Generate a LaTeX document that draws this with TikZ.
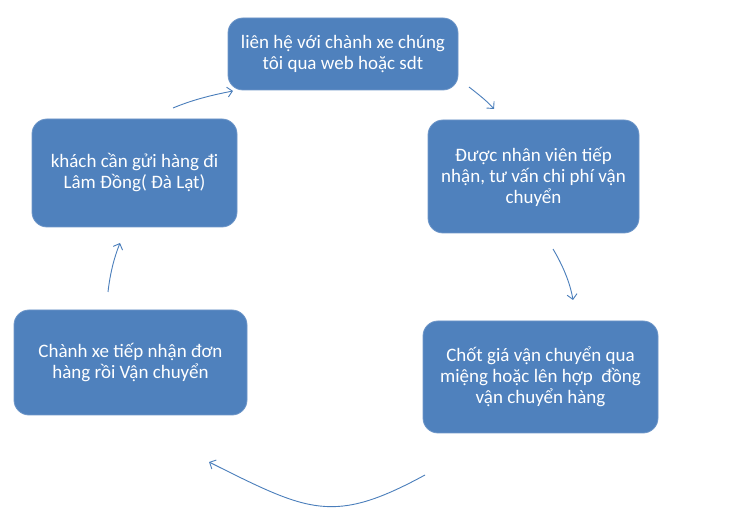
\documentclass[tikz,border=0pt]{standalone}
\usepackage{fontspec}
\setmainfont{Carlito}
\usetikzlibrary{arrows.meta}
\definecolor{boxblue}{HTML}{4F81BD}
\definecolor{boxedge}{HTML}{6F97C9}
\definecolor{arrblue}{HTML}{4A7EBB}
\tikzset{
  stepbox/.style={draw=boxedge, line width=0.8pt, fill=boxblue, rounded corners=15pt,
    text=white, align=center, inner sep=0pt,
    font=\fontsize{19}{21}\selectfont},
  flow/.style={draw=arrblue, line width=0.9pt, -{Straight Barb[length=5pt,width=10pt]}}
}
\begin{document}
\begin{tikzpicture}[x=1pt,y=-1pt]
\useasboundingbox[fill=white] (0,0) rectangle (729,529);
\node[stepbox, minimum width=230pt, minimum height=72pt] (b1) at (343,54)
  {liên hệ với chành xe chúng\\tôi qua web hoặc sdt};
\node[stepbox, minimum width=211pt, minimum height=113pt] (b2) at (533.5,176.5)
  {Được nhân viên tiếp\\nhận, tư vấn chi phí vận\\chuyển};
\node[stepbox, minimum width=235pt, minimum height=112pt] (b3) at (540.5,377)
  {Chốt giá vận chuyển qua\\miệng hoặc lên hợp~ đồng\\vận chuyển hàng};
\node[stepbox, minimum width=233pt, minimum height=105pt] (b4) at (130.5,362.5)
  {Chành xe tiếp nhận đơn\\hàng rồi Vận chuyển};
\node[stepbox, minimum width=205pt, minimum height=108pt] (b5) at (134.5,173)
  {khách cần gửi hàng đi\\Lâm Đồng( Đà Lạt)};
\coordinate (a1s) at (173,108); \coordinate (a1e) at (233,91);
\coordinate (a2s) at (469,87);  \coordinate (a2e) at (494,109);
\coordinate (a3s) at (553,249); \coordinate (a3e) at (573,300);
\coordinate (a4s) at (425,475); \coordinate (a4e) at (209,462);
\coordinate (a5s) at (108,292); \coordinate (a5e) at (120,243);
\draw[flow] (a1s) .. controls (192,100) and (212,95) .. (a1e);
\draw[flow] (a2s) .. controls (478,94) and (487,101) .. (a2e);
\draw[flow] (a3s) .. controls (562,264) and (570,282) .. (a3e);
\draw[flow] (a4s) .. controls (333,525) and (309,512) .. (a4e);
\draw[flow] (a5s) .. controls (110,274) and (114,258) .. (a5e);
\end{tikzpicture}
\end{document}
